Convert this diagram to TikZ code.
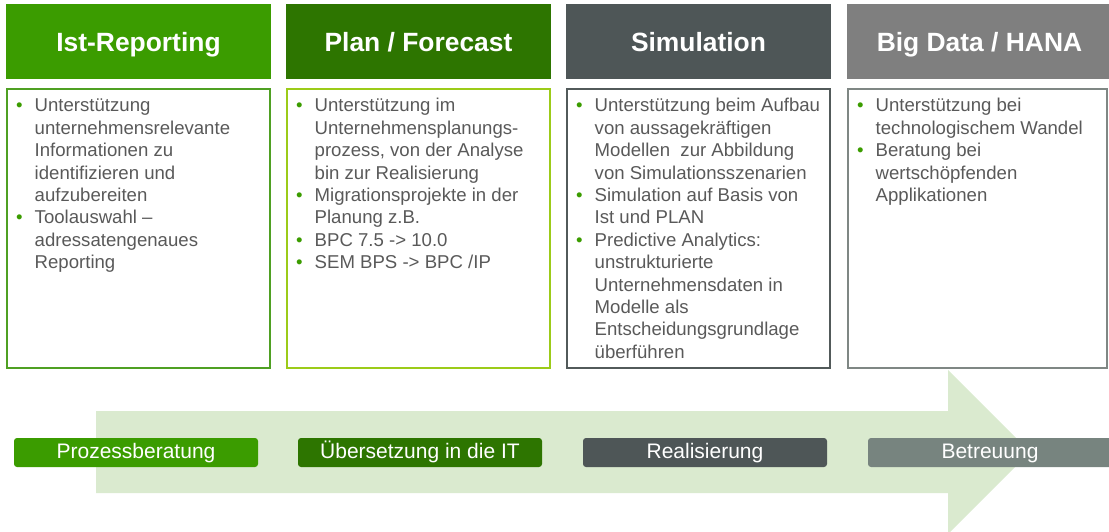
\documentclass[tikz,border=0pt]{standalone}
\usepackage{fontspec}
\setmainfont{Liberation Sans}
\definecolor{istgreen}{HTML}{3B9C00}
\definecolor{plangreen}{HTML}{2D7500}
\definecolor{simgray}{HTML}{4E5657}
\definecolor{biggray}{HTML}{7F7F7F}
\definecolor{istline}{HTML}{4FA023}
\definecolor{planline}{HTML}{9CCB19}
\definecolor{simline}{HTML}{525A5A}
\definecolor{bigline}{HTML}{7F8784}
\definecolor{betgray}{HTML}{77847F}
\definecolor{arrowfill}{HTML}{DAEACF}
\definecolor{textgray}{HTML}{595959}
\newcommand{\bul}{\textcolor{istgreen}{\textbullet}}
\begin{document}
\begin{tikzpicture}[x=1pt,y=-1pt,
    titlebox/.style={fill=#1, text=white, anchor=north west, inner sep=0pt, outer sep=0pt,
      minimum width=265pt, text height=48pt, text depth=27pt,
      font=\fontsize{26.4}{30}\selectfont\bfseries},
    infobox/.style={draw=#1, line width=2.2pt, anchor=north west, inner sep=0pt, outer sep=0pt,
      minimum width=263pt, minimum height=279pt},
    bodytext/.style={anchor=base west, inner sep=0pt, text=textgray,
      font=\fontsize{18.6}{22.4}\selectfont},
    phasebox/.style={fill=#1, text=white, anchor=north west, inner sep=0pt, outer sep=0pt,
      rounded corners=3pt, minimum width=244pt, text height=20pt, text depth=9pt,
      font=\fontsize{21}{24}\selectfont}]
  \useasboundingbox (0,0) rectangle (1109,532);
  \clip (0,0) rectangle (1109,532);

  % process arrow in the background
  \fill[arrowfill] (96,411) -- (948,411) -- (948,370) -- (1030,452) -- (948,534)
    -- (948,493) -- (96,493) -- cycle;

  % column headers
  \node[titlebox=istgreen]  (hIst)  at (6,4)   {Ist-Reporting};
  \node[titlebox=plangreen] (hPlan) at (286,4) {Plan / Forecast};
  \node[titlebox=simgray]   (hSim)  at (566,4) {Simulation};
  \node[titlebox=biggray]   (hBig)  at (847,4) {Big Data / HANA};

  % content boxes
  \node[infobox=istline]  (cIst)  at (7,89)   {};
  \node[infobox=planline] (cPlan) at (287,89) {};
  \node[infobox=simline]  (cSim)  at (567,89) {};
  \node[infobox=bigline, minimum width=259pt] (cBig) at (848,89) {};

  \node[bodytext] (tIst) at ([shift={(9,23)}]cIst.north west) {%
    \begin{tabular}[t]{@{}p{18.5pt}@{}l@{}}
      \bul & Unterstützung\\
           & unternehmensrelevante\\
           & Informationen zu\\
           & identifizieren und\\
           & aufzubereiten\\
      \bul & Toolauswahl –\\
           & adressatengenaues\\
           & Reporting
    \end{tabular}};
  \node[bodytext] (tPlan) at ([shift={(9,23)}]cPlan.north west) {%
    \begin{tabular}[t]{@{}p{18.5pt}@{}l@{}}
      \bul & Unterstützung im\\
           & Unternehmensplanungs-\\
           & prozess, von der Analyse\\
           & bin zur Realisierung\\
      \bul & Migrationsprojekte in der\\
           & Planung z.B.\\
      \bul & BPC 7.5 -> 10.0\\
      \bul & SEM BPS -> BPC /IP
    \end{tabular}};
  \node[bodytext] (tSim) at ([shift={(9,23)}]cSim.north west) {%
    \begin{tabular}[t]{@{}p{18.5pt}@{}l@{}}
      \bul & Unterstützung beim Aufbau\\
           & von aussagekräftigen\\
           & Modellen\ \ zur Abbildung\\
           & von Simulationsszenarien\\
      \bul & Simulation auf Basis von\\
           & Ist und PLAN\\
      \bul & Predictive Analytics:\\
           & unstrukturierte\\
           & Unternehmensdaten in\\
           & Modelle als\\
           & Entscheidungsgrundlage\\
           & überführen
    \end{tabular}};
  \node[bodytext] (tBig) at ([shift={(9,23)}]cBig.north west) {%
    \begin{tabular}[t]{@{}p{18.5pt}@{}l@{}}
      \bul & Unterstützung bei\\
           & technologischem Wandel\\
      \bul & Beratung bei\\
           & wertschöpfenden\\
           & Applikationen
    \end{tabular}};

  % phases on the arrow
  \node[phasebox=istgreen]  (pProz) at (14,438)  {Prozessberatung};
  \node[phasebox=plangreen] (pUeb)  at (298,438) {Übersetzung in die IT};
  \node[phasebox=simgray]   (pReal) at (583,438) {Realisierung};
  \node[phasebox=betgray]   (pBet)  at (868,438) {Betreuung};
\end{tikzpicture}
\end{document}
